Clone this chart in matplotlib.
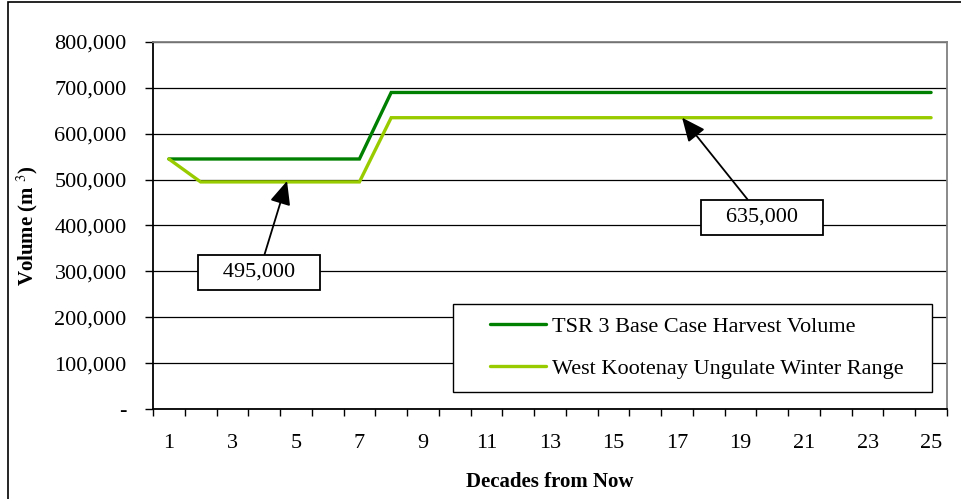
import matplotlib.pyplot as plt
from matplotlib.patches import Rectangle
from matplotlib.ticker import FuncFormatter

plt.rcParams['font.family'] = ['Liberation Serif', 'DejaVu Serif']
plt.rcParams['mathtext.fontset'] = 'stix'

decades = list(range(1, 26))
base_case = [545000] * 7 + [690000] * 18
wkur = [545000] + [495000] * 6 + [635000] * 18
series_names = ['TSR 3 Base Case Harvest Volume', 'West Kootenay Ungulate Winter Range']
dark_green = '#008000'
light_green = '#99CC00'
fs = 16

fig = plt.figure(figsize=(9.61, 4.99), dpi=100)
ax = fig.add_axes([0.1592, 0.1804, 0.8262, 0.7354])

ax.plot(decades, base_case, color=dark_green, lw=2.4, label=series_names[0],
        solid_capstyle='round', solid_joinstyle='miter')
ax.plot(decades, wkur, color=light_green, lw=2.4, label=series_names[1],
        solid_capstyle='round', solid_joinstyle='miter')

ax.set_xlim(0.5, 25.5)
ax.set_ylim(0, 800000)

# y axis
ax.set_yticks(range(0, 800001, 100000))
ax.yaxis.set_major_formatter(FuncFormatter(lambda v, p: '-' if v == 0 else f'{int(v):,}'))
ax.grid(axis='y', color='black', lw=0.9)
ax.set_axisbelow(True)

# x axis: tick marks at category boundaries, labels at odd decades
ax.set_xticks([d for d in decades if d % 2 == 1])
ax.set_xticks([d + 0.5 for d in range(0, 26)], minor=True)
ax.tick_params(axis='x', which='major', length=0, pad=18, labelsize=fs)
ax.tick_params(axis='x', which='minor', length=5, direction='out', width=1)
ax.tick_params(axis='y', which='major', length=6, direction='out', width=1, labelsize=fs, pad=13)

for s in ['top', 'right']:
    ax.spines[s].set_color('#808080')
    ax.spines[s].set_linewidth(1.3)
for s in ['left', 'bottom']:
    ax.spines[s].set_color('black')
    ax.spines[s].set_linewidth(1.3)

ax.set_xlabel('Decades from Now', fontsize=15, fontweight='bold', labelpad=14)
ax.set_ylabel('Volume (m $^{3}$)', fontsize=15, fontweight='bold', labelpad=10)

# annotations
box = dict(boxstyle='square,pad=0.35', fc='white', ec='black', lw=1.3)
arrow = dict(arrowstyle='-|>,head_length=0.9,head_width=0.4', color='black', lw=1.3, shrinkA=0, shrinkB=0)
ax.annotate('   495,000   ', xy=(4.72, 497000), xytext=(3.84, 298000), fontsize=fs,
            ha='center', va='center', bbox=box, arrowprops=arrow)
ax.annotate('   635,000   ', xy=(17.16, 635000), xytext=(19.67, 418000), fontsize=fs,
            ha='center', va='center', bbox=box, arrowprops=arrow)

# legend with its own frame
ax.add_patch(Rectangle((0.378, 0.046), 0.603, 0.240, transform=ax.transAxes,
                       fill=True, fc='white', ec='black', lw=1.0, zorder=4))
leg = ax.legend(loc='upper left', bbox_to_anchor=(0.4244, 0.252), fontsize=fs,
                frameon=False, handlelength=2.5, handletextpad=0.3, labelspacing=0.95,
                borderpad=0, borderaxespad=0)
leg.set_zorder(5)

# outer chart border
fig.patches.append(Rectangle((8 / 961, -0.1), 1.2, 1.1 - 2 / 499, transform=fig.transFigure,
                             fill=False, ec='black', lw=1.2))

fig.savefig('out.png', dpi=100)
